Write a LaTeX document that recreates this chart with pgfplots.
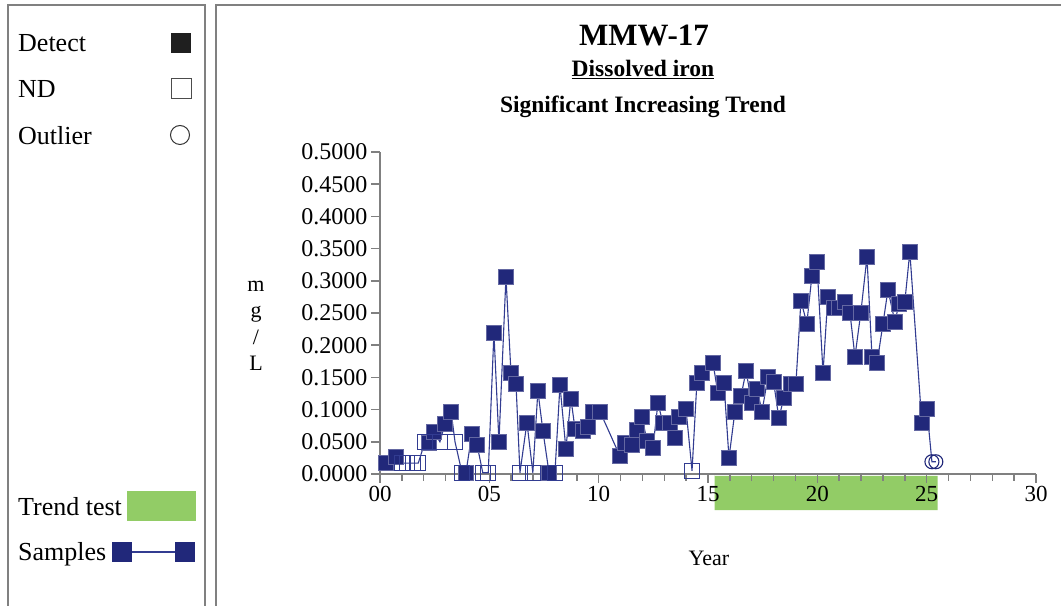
\documentclass[border=0pt]{standalone}
\usepackage{fontspec}
\setmainfont{Liberation Serif}
\usepackage{pgfplots}
\pgfplotsset{compat=1.18}
\usepackage{pgfplotstable}
\definecolor{navy}{RGB}{33,40,122}
\definecolor{navyline}{RGB}{50,60,145}
\definecolor{trendgreen}{RGB}{146,204,102}
\definecolor{framegray}{RGB}{128,128,128}

\pgfplotstableread{
x y
0.27 0.017
0.73 0.027
1.00 0.017
1.25 0.017
1.50 0.017
1.75 0.017
2.06 0.050
2.24 0.048
2.47 0.065
2.74 0.050
2.97 0.078
3.25 0.097
3.43 0.050
3.75 0.002
3.93 0.002
4.20 0.062
4.44 0.045
4.70 0.002
4.95 0.002
5.21 0.219
5.44 0.050
5.76 0.306
5.99 0.157
6.22 0.140
6.40 0.002
6.72 0.080
6.99 0.002
7.22 0.129
7.45 0.067
7.73 0.002
8.00 0.002
8.23 0.138
8.50 0.039
8.73 0.117
8.92 0.070
9.28 0.067
9.51 0.074
9.74 0.097
10.06 0.097
10.97 0.028
11.20 0.048
11.52 0.045
11.75 0.068
11.98 0.089
12.21 0.051
12.48 0.040
12.71 0.110
12.94 0.079
13.26 0.079
13.49 0.056
13.67 0.089
13.99 0.102
14.27 0.005
14.49 0.141
14.72 0.157
15.23 0.172
15.45 0.126
15.73 0.141
15.96 0.025
16.23 0.097
16.51 0.121
16.74 0.160
17.00 0.110
17.24 0.132
17.47 0.097
17.74 0.151
18.00 0.143
18.24 0.087
18.47 0.118
18.79 0.140
19.02 0.140
19.25 0.269
19.52 0.234
19.75 0.307
19.98 0.329
20.26 0.157
20.48 0.275
20.76 0.258
20.99 0.258
21.26 0.267
21.49 0.251
21.72 0.182
21.99 0.251
22.27 0.337
22.50 0.182
22.73 0.172
23.00 0.233
23.23 0.286
23.55 0.236
23.73 0.264
24.00 0.267
24.23 0.345
24.78 0.079
25.01 0.101
25.24 0.019
25.42 0.019
}\allsamples

\pgfplotstableread{
x y
0.27 0.017
0.73 0.027
2.24 0.048
2.47 0.065
2.97 0.078
3.25 0.097
3.93 0.002
4.20 0.062
4.44 0.045
5.21 0.219
5.44 0.050
5.76 0.306
5.99 0.157
6.22 0.140
6.72 0.080
7.22 0.129
7.45 0.067
7.73 0.002
8.23 0.138
8.50 0.039
8.73 0.117
8.92 0.070
9.28 0.067
9.51 0.074
9.74 0.097
10.06 0.097
10.97 0.028
11.20 0.048
11.52 0.045
11.75 0.068
11.98 0.089
12.21 0.051
12.48 0.040
12.71 0.110
12.94 0.079
13.26 0.079
13.49 0.056
13.67 0.089
13.99 0.102
14.49 0.141
14.72 0.157
15.23 0.172
15.45 0.126
15.73 0.141
15.96 0.025
16.23 0.097
16.51 0.121
16.74 0.160
17.00 0.110
17.24 0.132
17.47 0.097
17.74 0.151
18.00 0.143
18.24 0.087
18.47 0.118
18.79 0.140
19.02 0.140
19.25 0.269
19.52 0.234
19.75 0.307
19.98 0.329
20.26 0.157
20.48 0.275
20.76 0.258
20.99 0.258
21.26 0.267
21.49 0.251
21.72 0.182
21.99 0.251
22.27 0.337
22.50 0.182
22.73 0.172
23.00 0.233
23.23 0.286
23.55 0.236
23.73 0.264
24.00 0.267
24.23 0.345
24.78 0.079
25.01 0.101
}\detects

\pgfplotstableread{
x y
1.00 0.017
1.25 0.017
1.50 0.017
1.75 0.017
2.06 0.050
2.74 0.050
3.43 0.050
3.75 0.002
4.70 0.002
4.95 0.002
6.40 0.002
6.99 0.002
8.00 0.002
14.27 0.005
}\nondetects

\pgfplotstableread{
x y
25.24 0.019
25.42 0.019
}\outliers

\pgfplotstableread{
x y
15.3 -0.003
25.5 -0.003
25.5 -0.056
15.3 -0.056
}\trendrange

\begin{document}
\begin{tikzpicture}
\useasboundingbox (0bp,0bp) rectangle (1061bp,606bp);
\fill[white] (0bp,0bp) rectangle (1061bp,606bp);
% panel frames
\draw[framegray, line width=2bp] (8bp,-5bp) -- (8bp,601bp) -- (205bp,601bp) -- (205bp,-5bp);
\draw[framegray, line width=2bp] (216bp,-5bp) -- (216bp,601bp) -- (1070bp,601bp);

% left legend
\begin{scope}[font=\fontsize{26bp}{30bp}\selectfont]
\node[anchor=base west, inner sep=0pt] at (18bp,554bp) {Detect};
\node[anchor=base west, inner sep=0pt] at (18bp,508bp) {ND};
\node[anchor=base west, inner sep=0pt] at (18bp,461bp) {Outlier};
\node[anchor=base west, inner sep=0pt] at (18bp,90bp) {Trend test};
\node[anchor=base west, inner sep=0pt] at (18bp,45bp) {Samples};
\end{scope}
\fill[black!88] (171bp,553bp) rectangle (191bp,573bp);
\draw[black!70, line width=1bp] (171bp,507bp) rectangle (191bp,527bp);
\draw[black!80, line width=1bp] (180bp,471bp) circle (9.5bp);
\fill[trendgreen] (127bp,85bp) rectangle (196bp,115bp);
\draw[navyline, line width=1.2bp] (122bp,54bp) -- (185bp,54bp);
\fill[navy] (112bp,44bp) rectangle (132bp,64bp);
\fill[navy] (175bp,44bp) rectangle (195bp,64bp);

% titles
\node[anchor=base, inner sep=0pt, font=\bfseries\fontsize{31bp}{36bp}\selectfont] at (644bp,560bp) {MMW-17};
\node[anchor=base, inner sep=0pt, font=\bfseries\fontsize{23.5bp}{28bp}\selectfont] at (643bp,529bp) {\underline{Dissolved iron}};
\node[anchor=base, inner sep=0pt, font=\bfseries\fontsize{23.5bp}{28bp}\selectfont] at (643bp,493bp) {Significant Increasing Trend};
\node[align=center, inner sep=0pt, font=\fontsize{22bp}{26.5bp}\selectfont] at (256bp,280bp) {m\\g\\/\\L};
\node[anchor=base, inner sep=0pt, font=\fontsize{22bp}{26bp}\selectfont] at (709bp,40bp) {Year};

% trend test band (behind the axis)
\begin{axis}[at={(380bp,132bp)}, anchor=south west, scale only axis,
  width=656bp, height=322bp, xmin=0, xmax=30, ymin=0, ymax=0.5,
  hide axis, clip=false]
\addplot[fill=trendgreen, draw=none] table {\trendrange} \closedcycle;
\end{axis}

\begin{axis}[at={(380bp,132bp)}, anchor=south west, scale only axis,
  width=656bp, height=322bp, xmin=0, xmax=30, ymin=0, ymax=0.5,
  clip=false,
  axis lines*=left, axis line style={framegray, line width=1.5bp, -},
  tick style={framegray, line width=1.5bp},
  tick align=outside,
  major tick length=9bp, minor tick length=7bp,
  xtick={0,5,10,15,20,25,30},
  xticklabels={00,05,10,15,20,25,30},
  minor xtick={1,2,3,4,6,7,8,9,11,12,13,14,16,17,18,19,21,22,23,24,26,27,28,29},
  ytick={0,0.05,...,0.5},
  /pgf/number format/assume math mode=true,
  yticklabel style={/pgf/number format/fixed, /pgf/number format/fixed zerofill, /pgf/number format/precision=4, font=\fontsize{24bp}{28bp}\selectfont},
  xticklabel style={font=\fontsize{23bp}{27bp}\selectfont},
  scaled y ticks=false,
]
\addplot[navyline, line width=1.1bp, mark=none] table {\allsamples};
\addplot[only marks, mark=square*, mark size=7.5bp, mark options={fill=navy, draw=navy!70!white, line width=0.6bp}] table {\detects};
\addplot[only marks, mark=square, mark size=7.5bp, mark options={draw=navyline, line width=1.1bp, fill=none}] table {\nondetects};
\addplot[only marks, mark=o, mark size=7bp, mark options={draw=navy, line width=1.1bp, fill=none}] table {\outliers};
\end{axis}
\end{tikzpicture}
\end{document}
